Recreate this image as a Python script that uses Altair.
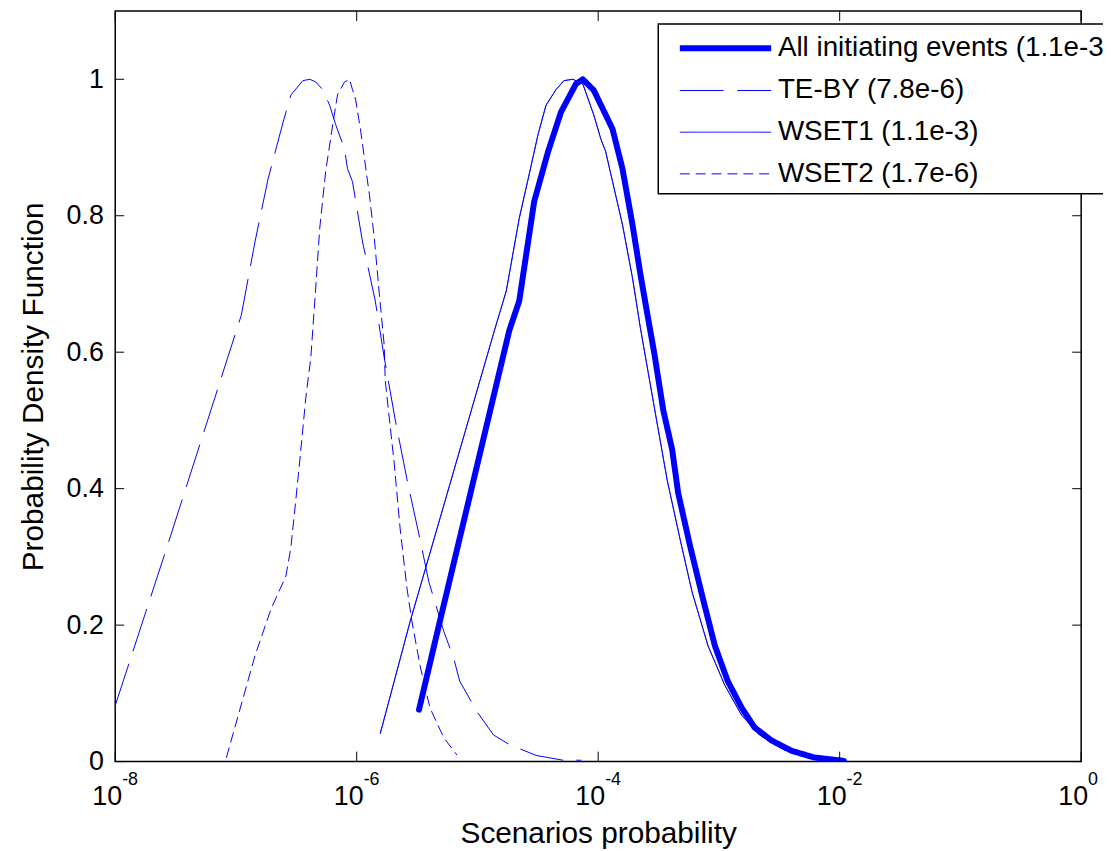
import altair as alt
import pandas as pd

# ---- data (x as log10 of probability, y as PDF) ----
series_names = ["All initiating events (1.1e-3)", "TE-BY (7.8e-6)", "WSET1 (1.1e-3)", "WSET2 (1.7e-6)"]

all_log10x = [-5.484, -5.320, -4.736, -4.654, -4.530, -4.415, -4.308, -4.185, -4.127, -4.037,
              -3.938, -3.881, -3.799, -3.716, -3.651, -3.593, -3.535, -3.461, -3.387, -3.338,
              -3.239, -3.133, -3.034, -2.927, -2.812, -2.705, -2.565, -2.401, -2.212, -1.965]
all_y = [0.076, 0.199, 0.632, 0.675, 0.821, 0.894, 0.952, 0.993, 1.000, 0.984,
         0.948, 0.927, 0.869, 0.787, 0.715, 0.656, 0.598, 0.515, 0.457, 0.394,
         0.316, 0.239, 0.170, 0.118, 0.079, 0.050, 0.031, 0.016, 0.006, 0.001]

teby_log10x = [-8.000, -7.572, -6.956, -6.841, -6.734, -6.610, -6.545, -6.446, -6.388, -6.339,
               -6.282, -6.224, -6.175, -6.101, -6.076, -6.035, -5.953, -5.846, -5.772, -5.681,
               -5.583, -5.476, -5.402, -5.279, -5.196, -5.147, -5.007, -4.867, -4.736, -4.514,
               -4.292, -4.144]
teby_y = [0.082, 0.314, 0.654, 0.763, 0.854, 0.937, 0.977, 0.998, 1.000, 0.996,
          0.985, 0.962, 0.934, 0.898, 0.869, 0.850, 0.763, 0.675, 0.592, 0.501,
          0.413, 0.326, 0.263, 0.191, 0.151, 0.118, 0.074, 0.039, 0.025, 0.009,
          0.002, 0.002]

wset1_log10x = [-5.805, -5.558, -4.859, -4.761, -4.654, -4.580, -4.497, -4.432, -4.349, -4.284,
                -4.210, -4.127, -4.037, -3.979, -3.938, -3.881, -3.799, -3.716, -3.651, -3.527,
                -3.429, -3.322, -3.223, -3.091, -2.952, -2.812, -2.664, -2.458, -2.253, -2.047]
wset1_y = [0.041, 0.205, 0.632, 0.690, 0.796, 0.854, 0.920, 0.962, 0.985, 0.998,
           1.000, 0.993, 0.948, 0.913, 0.894, 0.850, 0.787, 0.709, 0.636, 0.511,
           0.413, 0.326, 0.249, 0.170, 0.112, 0.068, 0.039, 0.017, 0.007, 0.003]

wset2_log10x = [-7.079, -6.841, -6.709, -6.586, -6.545, -6.504, -6.471, -6.421, -6.380, -6.347,
                -6.306, -6.257, -6.199, -6.158, -6.101, -6.060, -6.035, -6.010, -5.969, -5.936,
                -5.895, -5.854, -5.813, -5.772, -5.764, -5.690, -5.640, -5.583, -5.542, -5.476,
                -5.394, -5.279, -5.172]
wset2_y = [0.006, 0.156, 0.224, 0.272, 0.314, 0.384, 0.442, 0.534, 0.592, 0.675,
           0.782, 0.865, 0.933, 0.978, 0.996, 1.000, 0.985, 0.971, 0.927, 0.884,
           0.831, 0.767, 0.686, 0.610, 0.559, 0.438, 0.341, 0.253, 0.205, 0.141,
           0.079, 0.035, 0.010]

x_tick_values = [1e-8, 1e-6, 1e-4, 1e-2, 1e0]
x_tick_exponents = ["-8", "-6", "-4", "-2", "0"]
y_tick_values = [0, 0.2, 0.4, 0.6, 0.8, 1.0]

# ---- build table ----
rows = []
for name, lx, ys in zip(series_names,
                        [all_log10x, teby_log10x, wset1_log10x, wset2_log10x],
                        [all_y, teby_y, wset1_y, wset2_y]):
    for i, (a, b) in enumerate(zip(lx, ys)):
        rows.append({"series": name, "x": 10 ** a, "y": b, "i": i})
df = pd.DataFrame(rows)

xt = pd.DataFrame({"x": x_tick_values, "base": ["10"] * 5, "exp": x_tick_exponents})
yt = pd.DataFrame({"y": y_tick_values})

W, H = 973, 756
FONT = "Liberation Sans"
FS = 27
FL = 28
FT = 30

xscale = alt.Scale(type="log", domain=[1e-8, 1], nice=False)
yscale = alt.Scale(domain=[0, 1.1], nice=False)

lines = alt.Chart(df).mark_line(strokeCap="round", strokeJoin="round", clip=True).encode(
    x=alt.X("x:Q", scale=xscale,
            axis=alt.Axis(values=x_tick_values, labels=False, ticks=False, domain=False, grid=False,
                          title="Scenarios probability", titleFontSize=FT, titleFont=FONT,
                          titleFontWeight="normal", titleColor="black", titlePadding=58)),
    y=alt.Y("y:Q", scale=yscale,
            axis=alt.Axis(values=y_tick_values, format="~g", ticks=False, domain=False, grid=False,
                          labelFontSize=FS, labelFont=FONT, labelColor="black", labelPadding=12,
                          title="Probability Density Function", titleFontSize=FT, titleFont=FONT,
                          titleFontWeight="normal", titleColor="black", titlePadding=18)),
    color=alt.Color("series:N", scale=alt.Scale(domain=series_names, range=["#0000ff"] * 4),
                    legend=alt.Legend(title=None)),
    strokeDash=alt.StrokeDash("series:N", scale=alt.Scale(domain=series_names,
                                                          range=[[1, 0], [44, 14], [1, 0], [10, 6]]),
                              legend=alt.Legend(title=None)),
    strokeWidth=alt.StrokeWidth("series:N", scale=alt.Scale(type="ordinal", domain=series_names,
                                                            range=[6, 1, 1, 1]),
                                legend=alt.Legend(title=None)),
    order="i:Q",
)

tick_b = alt.Chart(xt).mark_rule(color="black", strokeWidth=1).encode(
    x=alt.X("x:Q", scale=xscale), y=alt.value(H), y2=alt.value(H - 10))
tick_t = alt.Chart(xt).mark_rule(color="black", strokeWidth=1).encode(
    x=alt.X("x:Q", scale=xscale), y=alt.value(0), y2=alt.value(10))
tick_l = alt.Chart(yt).mark_rule(color="black", strokeWidth=1).encode(
    y=alt.Y("y:Q", scale=yscale), x=alt.value(0), x2=alt.value(9))
tick_r = alt.Chart(yt).mark_rule(color="black", strokeWidth=1).encode(
    y=alt.Y("y:Q", scale=yscale), x=alt.value(W), x2=alt.value(W - 9))

lab_base = alt.Chart(xt).mark_text(align="right", baseline="alphabetic", dx=7, fontSize=FS,
                                   font=FONT, color="black").encode(
    x=alt.X("x:Q", scale=xscale), y=alt.value(H + 44), text="base:N")
lab_exp = alt.Chart(xt).mark_text(align="left", baseline="alphabetic", dx=7, fontSize=18,
                                  font=FONT, color="black").encode(
    x=alt.X("x:Q", scale=xscale), y=alt.value(H + 24), text="exp:N")

chart = alt.layer(lines, tick_b, tick_t, tick_l, tick_r, lab_base, lab_exp).properties(
    width=W, height=H,
    autosize=alt.AutoSizeParams(type="none"),
    padding={"left": 108, "top": 0, "right": 22, "bottom": 87},
).configure_view(
    stroke="black", strokeWidth=1.5
).configure_legend(
    orient="none", legendX=547, legendY=13, padding=6, rowPadding=12,
    strokeColor="black", fillColor="white", symbolType="M-0.18,0L5.82,0", symbolSize=940,
    labelFontSize=FL, labelFont=FONT, labelColor="black", labelOffset=77.5, labelLimit=1000,
    cornerRadius=0, strokeWidth=1.5,
).resolve_scale(x="shared", y="shared")

chart.save("out.html", embed_options={"renderer": "svg", "actions": False})
